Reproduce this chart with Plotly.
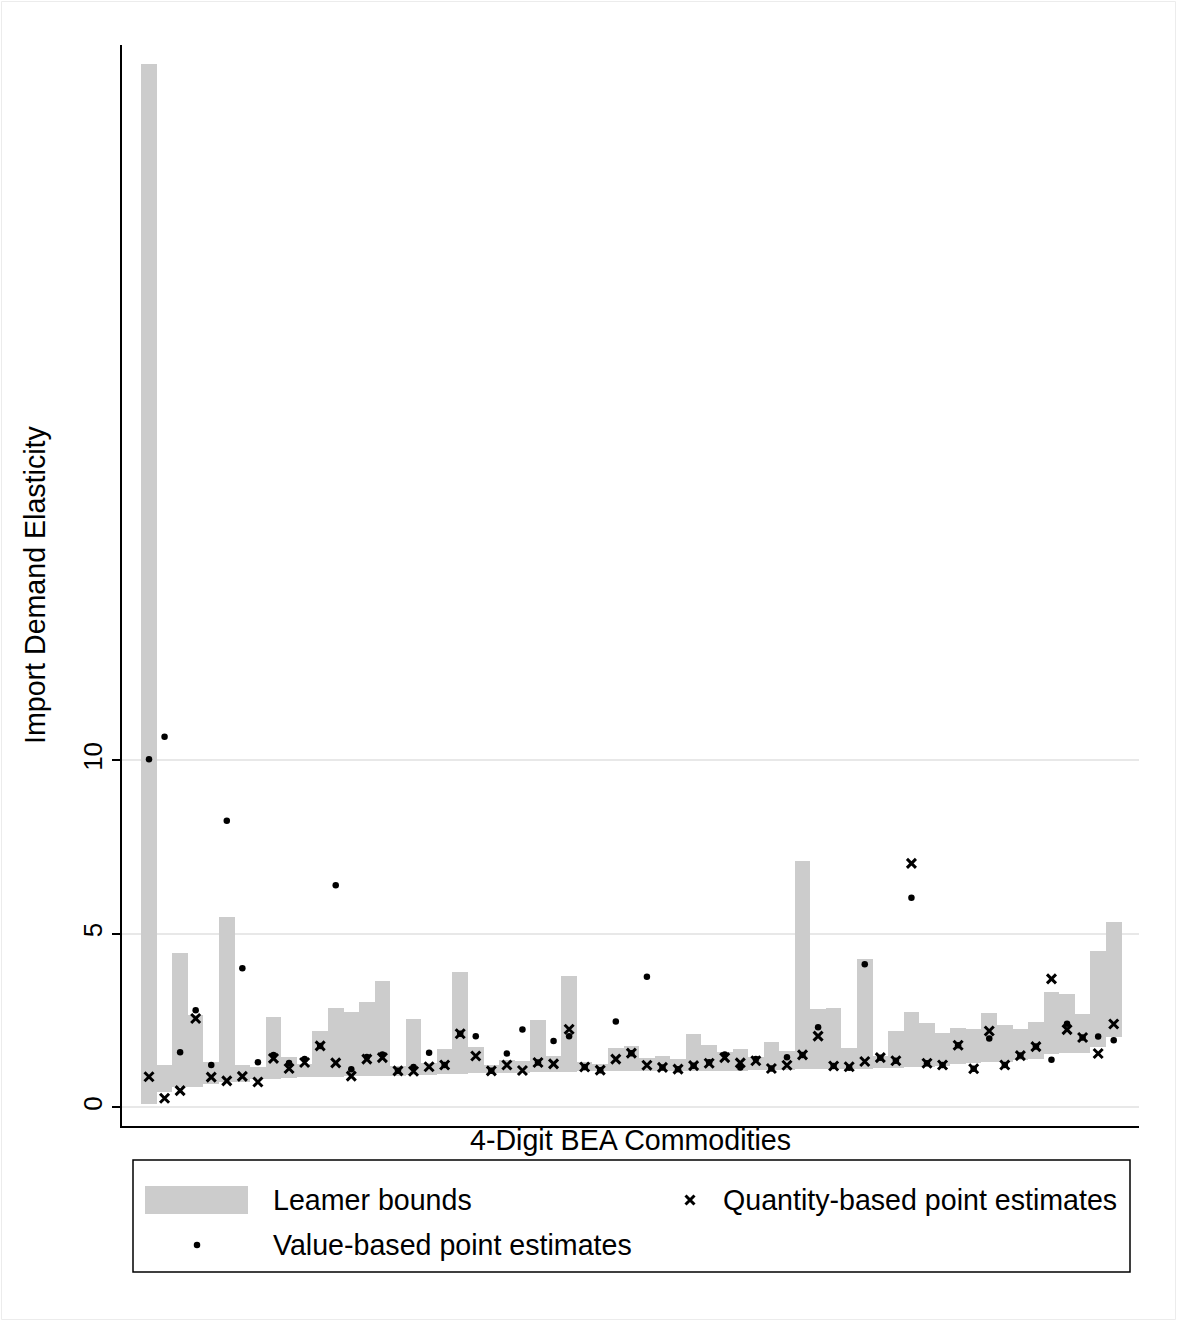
import plotly.graph_objects as go

# ---------------- data ----------------
commodity = list(range(63))

lower_bound = [0.10, 0.44, 0.58, 0.58, 0.67, 0.74, 0.74, 0.81, 0.83, 0.85,
               0.86, 0.88, 0.88, 0.89, 0.90, 0.90, 0.91, 0.93, 0.94, 0.95,
               0.97, 0.98, 0.98, 0.99, 1.00, 1.01, 1.01, 1.03, 1.04, 1.04,
               1.04, 1.04, 1.04, 1.04, 1.04, 1.06, 1.06, 1.06, 1.06, 1.07,
               1.07, 1.07, 1.09, 1.09, 1.09, 1.09, 1.11, 1.12, 1.14, 1.16,
               1.17, 1.19, 1.26, 1.28, 1.31, 1.31, 1.36, 1.40, 1.55, 1.57,
               1.57, 1.75, 2.04]

upper_bound = [30.07, 1.22, 4.45, 2.66, 1.30, 5.48, 1.22, 1.16, 2.60, 1.45,
               1.25, 2.20, 2.86, 2.75, 3.03, 3.64, 1.20, 2.54, 1.28, 1.68,
               3.90, 1.74, 1.22, 1.36, 1.33, 2.52, 1.48, 3.78, 1.30, 1.25,
               1.71, 1.77, 1.41, 1.48, 1.40, 2.11, 1.80, 1.58, 1.68, 1.46,
               1.88, 1.62, 7.10, 2.83, 2.86, 1.71, 4.27, 1.49, 2.20, 2.75,
               2.43, 2.14, 2.28, 2.26, 2.72, 2.37, 2.26, 2.46, 3.32, 3.27,
               2.69, 4.50, 5.34]

quantity_est = [0.88, 0.26, 0.48, 2.56, 0.87, 0.76, 0.89, 0.73, 1.41, 1.12,
                1.29, 1.77, 1.28, 0.90, 1.39, 1.43, 1.05, 1.04, 1.17, 1.22,
                2.12, 1.48, 1.05, 1.22, 1.06, 1.29, 1.25, 2.25, 1.16, 1.07,
                1.39, 1.56, 1.21, 1.15, 1.10, 1.20, 1.27, 1.43, 1.28, 1.34,
                1.12, 1.21, 1.51, 2.05, 1.19, 1.17, 1.32, 1.43, 1.34, 7.03,
                1.27, 1.22, 1.79, 1.11, 2.20, 1.22, 1.49, 1.75, 3.70, 2.24,
                2.01, 1.55, 2.40]

value_est = [10.03, 10.68, 1.59, 2.80, 1.22, 8.26, 4.01, 1.30, 1.51, 1.28,
             1.39, 1.77, 6.40, 1.10, 1.45, 1.52, 1.05, 1.16, 1.57, 1.22,
             2.12, 2.05, 1.05, 1.55, 2.24, 1.29, 1.91, 2.05, 1.16, 1.07,
             2.47, 1.56, 3.76, 1.15, 1.10, 1.20, 1.30, 1.52, 1.15, 1.39,
             1.12, 1.44, 1.51, 2.31, 1.19, 1.14, 4.12, 1.43, 1.34, 6.04,
             1.27, 1.22, 1.79, 1.11, 1.98, 1.22, 1.49, 1.75, 1.37, 2.41,
             2.01, 2.04, 1.93]

y_ticks = [0, 5, 10]
y_tick_text = ["0", "5", "10"]

# ---------------- layout constants ----------------
W, H = 1177, 1321
FONT = "Liberation Sans, Arial, Helvetica, sans-serif"
BAR_COLOR = "#cccccc"
TXT = 28.6
X_MARK = dict(symbol="x-thin", size=9, color="black",
              line=dict(width=3, color="black"))
DOT_MARK = dict(symbol="circle", size=6.5, color="black")


def px(x):
    return x / W


def py(y):
    return 1 - y / H


bar_height = [u - l for u, l in zip(upper_bound, lower_bound)]

fig = go.Figure()

fig.add_trace(go.Bar(
    x=commodity, y=bar_height, base=lower_bound,
    width=1.0, marker=dict(color=BAR_COLOR, line=dict(width=0)),
    name="Leamer bounds", showlegend=False, hoverinfo="skip",
))

fig.add_trace(go.Scatter(
    x=commodity, y=quantity_est, mode="markers", marker=X_MARK,
    name="Quantity-based point estimates", showlegend=False,
))

fig.add_trace(go.Scatter(
    x=commodity, y=value_est, mode="markers", marker=DOT_MARK,
    name="Value-based point estimates", showlegend=False,
))

# legend symbols drawn on a separate full-page axis in pixel space
fig.add_trace(go.Scatter(
    x=[690], y=[1200], mode="markers", xaxis="x2", yaxis="y2",
    marker=X_MARK, showlegend=False, hoverinfo="skip",
))
fig.add_trace(go.Scatter(
    x=[197], y=[1245], mode="markers", xaxis="x2", yaxis="y2",
    marker=DOT_MARK, showlegend=False, hoverinfo="skip",
))

x_lo = (122 - 149) / 15.56
x_hi = (1139 - 149) / 15.56
y_lo = (1107.3 - 1126) / 34.7
y_hi = (1107.3 - 45) / 34.7

fig.update_layout(
    width=W, height=H,
    margin=dict(l=0, r=0, t=0, b=0),
    paper_bgcolor="white", plot_bgcolor="rgba(0,0,0,0)",
    font=dict(family=FONT, color="black", size=TXT),
    bargap=0,
    showlegend=False,
    xaxis=dict(
        domain=[px(122), px(1139)], range=[x_lo, x_hi],
        showline=True, linecolor="black", linewidth=1.5,
        showgrid=False, zeroline=False, showticklabels=False, ticks="",
    ),
    yaxis=dict(
        domain=[py(1126), py(45)], range=[y_lo, y_hi],
        showline=True, linecolor="black", linewidth=1.5,
        showgrid=True, gridcolor="#e8e8e8", gridwidth=1.5,
        zeroline=False,
        tickmode="array", tickvals=y_ticks, ticktext=y_tick_text,
        ticks="outside", ticklen=8, tickwidth=1.5, tickcolor="black",
        tickangle=-90, tickfont=dict(size=26, family=FONT),
    ),
    xaxis2=dict(domain=[0, 1], range=[0, W], visible=False,
                anchor="y2", fixedrange=True),
    yaxis2=dict(domain=[0, 1], range=[H, 0], visible=False,
                anchor="x2", fixedrange=True),
)

shapes = [
    # outer graph region frame
    dict(type="rect", xref="paper", yref="paper",
         x0=px(1.5), x1=px(1175.5), y0=py(1319.5), y1=py(1.5),
         line=dict(color="#ececec", width=1), fillcolor="rgba(0,0,0,0)",
         layer="below"),
    # legend box
    dict(type="rect", xref="paper", yref="paper",
         x0=px(133), x1=px(1130), y0=py(1272), y1=py(1160),
         line=dict(color="black", width=1.5), fillcolor="rgba(0,0,0,0)",
         layer="below"),
    # legend bar swatch
    dict(type="rect", xref="paper", yref="paper",
         x0=px(145), x1=px(248), y0=py(1214), y1=py(1186),
         line=dict(width=0), fillcolor=BAR_COLOR, layer="below"),
]
fig.update_layout(shapes=shapes)

annotations = [
    dict(text="Import Demand Elasticity", x=px(35), y=py(585),
         xref="paper", yref="paper", textangle=-90, showarrow=False,
         xanchor="center", yanchor="middle", font=dict(size=TXT)),
    dict(text="4-Digit BEA Commodities", x=px(630.5), y=py(1140),
         xref="paper", yref="paper", showarrow=False,
         xanchor="center", yanchor="middle", font=dict(size=TXT)),
    dict(text="Leamer bounds", x=px(271), y=py(1200),
         xref="paper", yref="paper", showarrow=False,
         xanchor="left", yanchor="middle", font=dict(size=TXT)),
    dict(text="Quantity-based point estimates", x=px(721), y=py(1200),
         xref="paper", yref="paper", showarrow=False,
         xanchor="left", yanchor="middle", font=dict(size=TXT)),
    dict(text="Value-based point estimates", x=px(271), y=py(1245),
         xref="paper", yref="paper", showarrow=False,
         xanchor="left", yanchor="middle", font=dict(size=TXT)),
]
fig.update_layout(annotations=annotations)

fig.write_html("out.html", config={"displayModeBar": False},
               post_script="document.body.style.margin='0';")
